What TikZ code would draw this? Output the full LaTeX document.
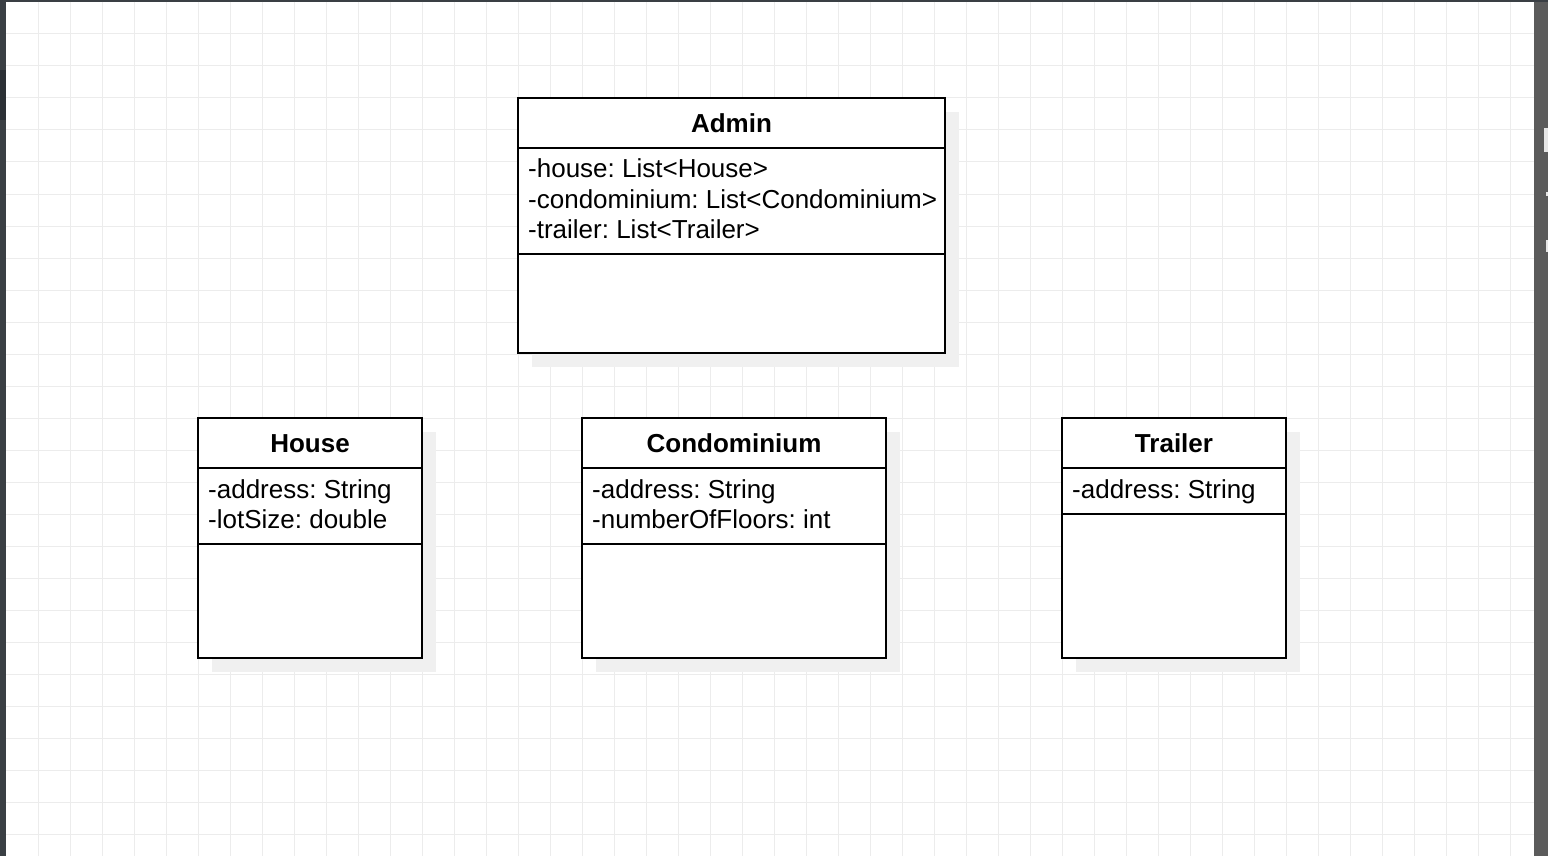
\documentclass[tikz,border=0pt]{standalone}
\usepackage{fontspec}
\setmainfont{Liberation Sans}
\definecolor{frameDark}{HTML}{3A3F44}
\definecolor{frameDeep}{HTML}{2B3035}
\definecolor{panelGray}{HTML}{5B5B5B}
\definecolor{panelMark}{HTML}{E6E6E6}
\definecolor{gridGray}{HTML}{ECECEC}
\definecolor{shadowGray}{HTML}{F0F0F0}
\begin{document}
\frenchspacing
\begin{tikzpicture}
[x=1pt,y=-1pt,%
  gridLine/.style={draw=gridGray,line width=1pt},
  classBox/.style={draw=black,line width=2pt,fill=white},
  classRule/.style={draw=black,line width=2pt},
  shadowBox/.style={fill=shadowGray},
  titleText/.style={font=\fontsize{26}{30}\selectfont\bfseries,inner sep=0pt,anchor=base},
  attrText/.style={font=\fontsize{26}{30}\selectfont,inner sep=0pt,anchor=base west}]
\useasboundingbox (0,0) rectangle (1548,856);
%% screen frame and canvas
\fill[frameDark] (0,0) rectangle (1548,856);
\fill[frameDeep] (0,70) rectangle (6,120);
\fill[panelGray] (1534,2) rectangle (1548,856);
\fill[panelMark] (1544,128) rectangle (1548,152);
\fill[panelMark] (1546,192) rectangle (1548,196);
\fill[panelMark] (1546,240) rectangle (1548,252);
\fill[white] (6,2) rectangle (1534,856);
%% grid
\foreach \gx in {38,70,...,1510}
{
  \draw[gridLine] (\gx,2) -- (\gx,856);
}
\foreach \gy in {34,66,...,834}
{
  \draw[gridLine] (6,\gy) -- (1534,\gy);
}
%% class boxes: name/left/top/right/bottom/rule1/rule2
\foreach \cname/\xa/\ya/\xb/\yb/\da/\db in {
  admin/518/98/945/353/148/254,
  house/198/418/422/658/468/544,
  condo/582/418/886/658/468/544,
  trailer/1062/418/1286/658/468/514}
{
  \fill[shadowBox] (\xa+14,\ya+14) rectangle (\xb+14,\yb+14);
  \draw[classBox] (\xa,\ya) rectangle (\xb,\yb);
  \draw[classRule] (\xa,\da) -- (\xb,\da) (\xa,\db) -- (\xb,\db);
}
%% class names
\foreach \nodename/\x/\y/\txt in {
  adminTitle/731.5/132.5/Admin, houseTitle/310/452.5/House,
  condoTitle/734/452.5/Condominium, trailerTitle/1174/452.5/Trailer}
{
  \node (\nodename) at (\x,\y) [titleText] {\txt};
}
%% attributes
\foreach \nodename/\x/\y/\txt in {
  adminAttrA/528/178/{-house: List<House>},
  adminAttrB/528/208/{-condominium: List<Condominium>},
  adminAttrC/528/238/{-trailer: List<Trailer>},
  houseAttrA/208/498/{-address: String},
  houseAttrB/208/528/{-lotSize: double},
  condoAttrA/592/498/{-address: String},
  condoAttrB/592/528/{-numberOfFloors: int},
  trailerAttrA/1072/498/{-address: String}}
{
  \node (\nodename) at (\x,\y) [attrText] {\txt};
}
\end{tikzpicture}
\end{document}
